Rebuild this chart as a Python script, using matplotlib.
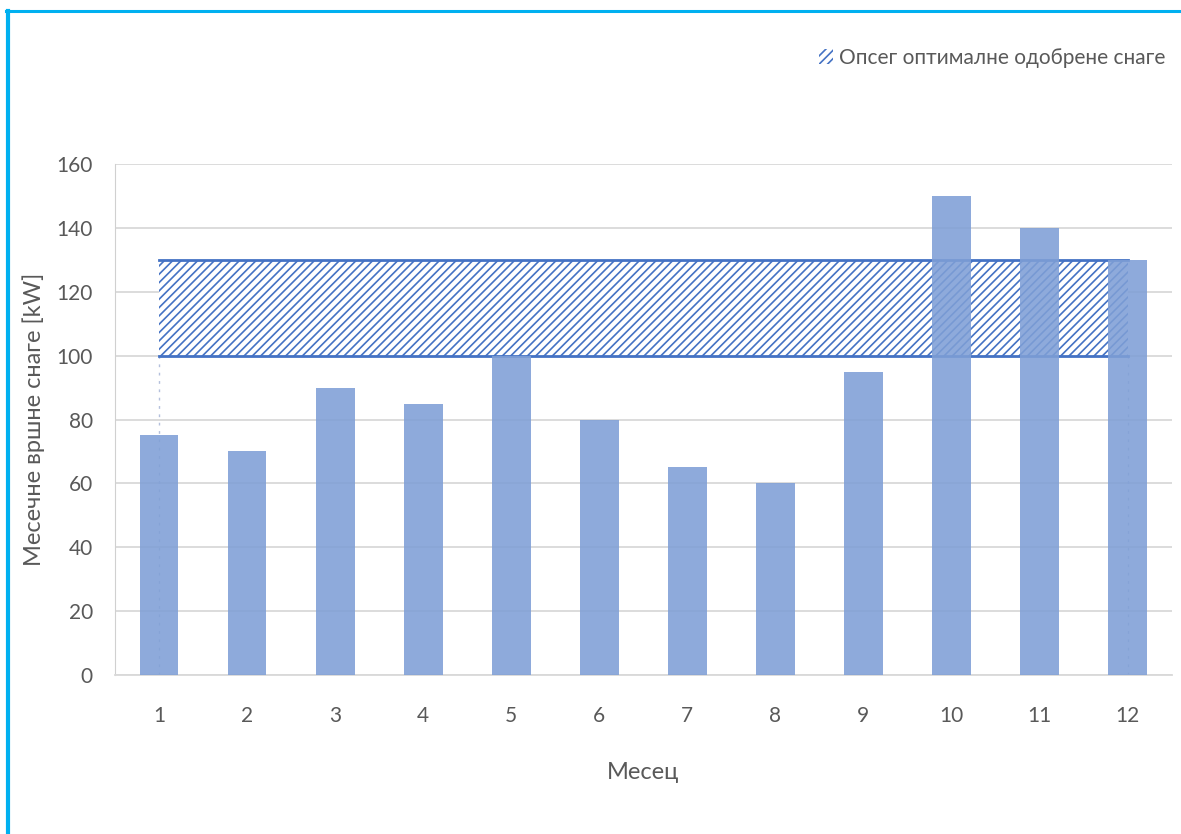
import matplotlib
matplotlib.use('Agg')
import matplotlib.pyplot as plt
from matplotlib.patches import Patch
from matplotlib.lines import Line2D

months = [1, 2, 3, 4, 5, 6, 7, 8, 9, 10, 11, 12]
peaks = [75, 70, 90, 85, 100, 80, 65, 60, 95, 150, 140, 130]
band_low = 100
band_high = 130
yticks = [0, 20, 40, 60, 80, 100, 120, 140, 160]

plt.rcParams['font.family'] = ['Lato', 'DejaVu Sans']
plt.rcParams['hatch.linewidth'] = 1.2
txt = '#595959'
blue = '#4472C4'

fig = plt.figure(figsize=(11.81, 8.34), dpi=100)
ax = fig.add_axes([0.0974, 0.1906, 0.8946, 0.6128])

# optimal range band (white face hides the grid like the original)
ax.fill_between([months[0], months[-1]], band_low, band_high,
                facecolor='white', edgecolor=blue, hatch='////', linewidth=0, zorder=2)
ax.plot([months[0], months[-1]], [band_low, band_low], color=blue, lw=2, zorder=3)
ax.plot([months[0], months[-1]], [band_high, band_high], color=blue, lw=2, zorder=3)
for m in (months[0], months[-1]):
    ax.plot([m, m], [0, band_low], color='#B4C0DC', lw=1, ls=(0, (2, 4)), zorder=2)

ax.bar(months, peaks, width=0.44, color='#7F9FD6', alpha=0.88, zorder=4)

ax.set_xlim(0.5, 12.5)
ax.set_ylim(0, 160)
ax.set_xticks(months)
ax.set_yticks(yticks)
ax.grid(axis='y', color='#D9D9D9', lw=1.3, zorder=0)
ax.set_axisbelow(True)
for s in ('top', 'right'):
    ax.spines[s].set_visible(False)
ax.spines['left'].set_color('#D0D0D0')
ax.spines['bottom'].set_color('#D9D9D9')
ax.spines['bottom'].set_linewidth(1.3)
ax.tick_params(length=0, labelsize=15, colors=txt)
ax.tick_params(axis='x', pad=22)
ax.tick_params(axis='y', pad=16)
ax.set_xlabel('Месец', fontsize=17, color=txt, labelpad=26)
ax.set_ylabel('Месечне вршне снаге [kW]', fontsize=17, color=txt, labelpad=8)

h = Patch(facecolor='none', edgecolor=blue, hatch='////', linewidth=0)
fig.legend([h], ['Опсег оптималне одобрене снаге'], loc='upper right',
           bbox_to_anchor=(1.003, 0.965), frameon=False, fontsize=15,
           labelcolor=txt, handlelength=0.7, handleheight=0.7, handletextpad=0.3)

# cyan frame on left and top
fig.add_artist(Line2D([0.0068, 0.0068], [0, 0.9868], color='#00B0F0', lw=3,
                      transform=fig.transFigure))
fig.add_artist(Line2D([0.0055, 1], [0.9868, 0.9868], color='#00B0F0', lw=2.2,
                      transform=fig.transFigure))

fig.savefig('out.png', dpi=100)
